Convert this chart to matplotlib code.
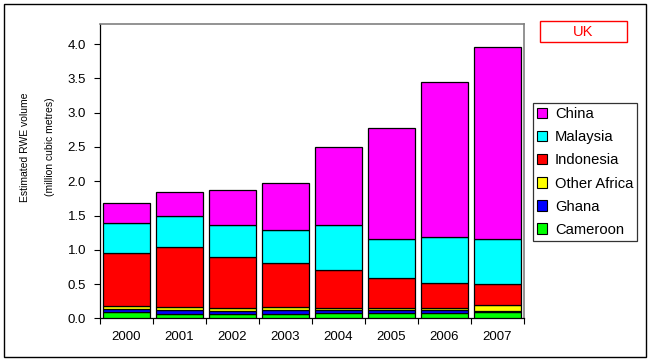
import numpy as np
import matplotlib.pyplot as plt
from matplotlib.patches import Rectangle, Patch

plt.rcParams['font.family'] = ['Liberation Sans', 'DejaVu Sans']

years = ["2000", "2001", "2002", "2003", "2004", "2005", "2006", "2007"]

# million cubic metres, stacked bottom to top
cameroon = [0.088, 0.058, 0.058, 0.058, 0.073, 0.073, 0.073, 0.088]
ghana = [0.048, 0.059, 0.049, 0.059, 0.044, 0.044, 0.044, 0.023]
other_africa = [0.039, 0.043, 0.039, 0.043, 0.038, 0.038, 0.038, 0.079]
indonesia = [0.774, 0.876, 0.744, 0.643, 0.545, 0.429, 0.356, 0.306]
malaysia = [0.438, 0.453, 0.468, 0.482, 0.658, 0.569, 0.671, 0.657]
china = [0.292, 0.351, 0.511, 0.686, 1.138, 1.621, 2.263, 2.803]

series = [
    ("Cameroon", cameroon, "#00ff00"),
    ("Ghana", ghana, "#0000ff"),
    ("Other Africa", other_africa, "#ffff00"),
    ("Indonesia", indonesia, "#ff0000"),
    ("Malaysia", malaysia, "#00ffff"),
    ("China", china, "#ff00ff"),
]

W, H = 651, 361
fig = plt.figure(figsize=(W / 100, H / 100), dpi=100)
ax = fig.add_axes([100 / W, 1 - 318.3 / H, 424 / W, 294 / H])

x = np.arange(len(years))
bottom = np.zeros(len(years))
handles = []
for name, vals, col in series:
    ax.bar(x, vals, width=0.9, bottom=bottom, color=col,
           edgecolor="black", linewidth=0.9, zorder=3)
    bottom += np.array(vals)
    handles.append(Patch(facecolor=col, edgecolor="black", linewidth=0.8, label=name))

ax.set_xlim(-0.5, 7.5)
ax.set_ylim(0, 4.29)
ax.set_yticks(np.arange(0, 4.01, 0.5))
ax.set_yticklabels([f"{v:.1f}" for v in np.arange(0, 4.01, 0.5)])
ax.set_xticks(np.arange(-0.5, 8, 1))
ax.set_xticklabels([])
ax.set_xticks(x, minor=True)
ax.set_xticklabels(years, minor=True)
ax.tick_params(axis="x", which="minor", length=0, pad=9, labelsize=9.5)
ax.tick_params(axis="x", which="major", length=4, width=0.8, direction="out")
ax.tick_params(axis="y", length=4, width=0.8, direction="out", pad=6, labelsize=9.5)

for s in ["top", "right"]:
    ax.spines[s].set_color("#808080")
    ax.spines[s].set_linewidth(1.2)
for s in ["left", "bottom"]:
    ax.spines[s].set_color("black")
    ax.spines[s].set_linewidth(0.9)

fig.text(25.5 / W, 1 - 147 / H, "Estimated RWE volume", rotation=90,
         ha="center", va="center", fontsize=7.5)
fig.text(50 / W, 1 - 147 / H, "(million cubic metres)", rotation=90,
         ha="center", va="center", fontsize=7.5)

leg = fig.legend(handles=handles[::-1], loc="upper left",
                 bbox_to_anchor=(533 / W, 1 - 103 / H), fontsize=10.6,
                 frameon=True, fancybox=False, edgecolor="black",
                 handlelength=0.7, handleheight=0.7, handletextpad=0.5,
                 labelspacing=0.62, borderpad=0.28, borderaxespad=0)
leg.get_frame().set_linewidth(0.9)

# UK label box
fig.add_artist(Rectangle((540 / W, 1 - 42.3 / H), 87 / W, 21.3 / H,
                         transform=fig.transFigure, fill=False,
                         edgecolor="#ff0000", linewidth=1.0))
fig.text(583.5 / W, 1 - 31.8 / H, "UK", color="#ff0000", fontsize=10.5,
         ha="center", va="center")

# chart border
fig.add_artist(Rectangle((4 / W, 1 - 357 / H), 642 / W, 353 / H,
                         transform=fig.transFigure, fill=False,
                         edgecolor="black", linewidth=1.0))

fig.savefig("out.png", dpi=100)
